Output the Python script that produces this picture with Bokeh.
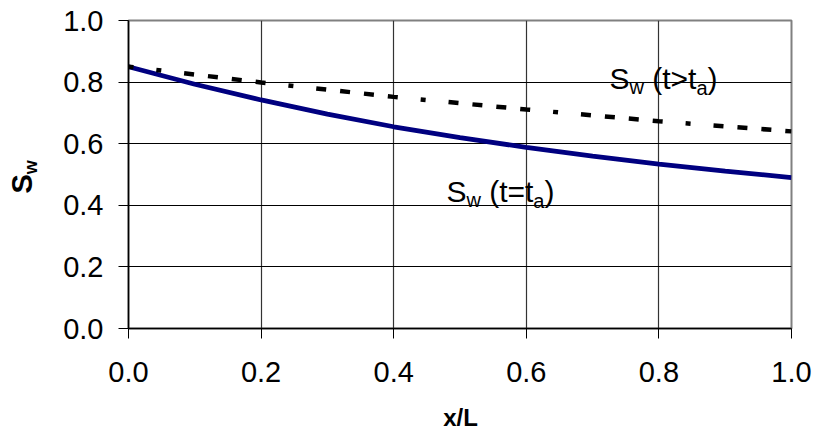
import math
from bokeh.plotting import figure
from bokeh.models import Range1d, FixedTicker, Label, PrintfTickFormatter
from bokeh.embed import file_html
from bokeh.resources import INLINE

# ---- data ----
x_solid = [0.0, 0.1, 0.2, 0.3, 0.4, 0.5, 0.6, 0.7, 0.8, 0.9, 1.0]
sw_solid = [0.850, 0.793, 0.742, 0.696, 0.655, 0.620, 0.588, 0.560, 0.534, 0.511, 0.490]

x_dash = [0.0, 0.2, 0.4, 0.6, 0.8, 1.0]
sw_dash = [0.850, 0.799, 0.752, 0.711, 0.673, 0.640]

tick_values = [0.0, 0.2, 0.4, 0.6, 0.8, 1.0]
tick_labels = ["0.0", "0.2", "0.4", "0.6", "0.8", "1.0"]
inner_ticks = [0.2, 0.4, 0.6, 0.8]
x_title = "x/L"

FONT = "Liberation Sans"

p = figure(width=815, height=429,
           x_range=Range1d(0, 1), y_range=Range1d(0, 1),
           output_backend="svg", toolbar_location=None,
           min_border_left=128, min_border_right=24,
           min_border_top=20, min_border_bottom=101)
p.background_fill_color = "white"
p.border_fill_color = "white"
p.outline_line_color = "#808080"
p.outline_line_width = 2

overrides = dict(zip(tick_values, tick_labels))
for ax in (p.xaxis[0], p.yaxis[0]):
    ax.ticker = FixedTicker(ticks=tick_values)
    ax.formatter = PrintfTickFormatter(format="%.1f")
    ax.major_label_overrides = overrides
    ax.axis_line_color = "black"
    ax.axis_line_width = 1.5
    ax.major_tick_line_color = "black"
    ax.major_tick_line_width = 1
    ax.major_tick_out = 10
    ax.major_tick_in = 0
    ax.minor_tick_line_color = None
    ax.major_label_text_font = FONT
    ax.major_label_text_font_size = "29px"
    ax.major_label_text_color = "black"
p.yaxis[0].major_label_standoff = 15
p.xaxis[0].major_label_standoff = 23

p.xgrid.ticker = FixedTicker(ticks=inner_ticks)
p.ygrid.ticker = FixedTicker(ticks=inner_ticks)
p.xgrid.grid_line_color = "#333333"
p.xgrid.grid_line_width = 1.2
p.ygrid.grid_line_color = "black"
p.ygrid.grid_line_width = 1

p.line(x_solid, sw_solid, line_color="#000080", line_width=4.8)
p.line(x_dash, sw_dash, line_color="black", line_width=4.5,
       line_dash="10 14 10 14 10 14 10 23 5 23", line_dash_offset=77)


def label(x, y, text, size, bold=False, angle=0.0, offset=0.0, units="data", align="left"):
    return Label(x=x, y=y, x_offset=offset, text=text, angle=angle,
                 x_units=units, y_units=units,
                 text_font=FONT, text_font_size=size,
                 text_font_style="bold" if bold else "normal",
                 text_align=align, text_baseline="alphabetic",
                 text_color="black")


def annotation(x0, yb, yw, ya, op):
    p.add_layout(label(x0, yb, "S", "30px", offset=0))
    p.add_layout(label(x0, yw, "w", "20px", offset=20.0))
    p.add_layout(label(x0, yb, "(t" + op + "t", "30px", offset=42.7))
    p.add_layout(label(x0, ya, "a", "20px", offset=86.9))
    p.add_layout(label(x0, yb, ")", "30px", offset=98.0))


# S_w (t=t_a)
annotation(0.4796, 0.4435, 0.4185, 0.4136, "=")
# S_w (t>t_a)
annotation(0.7255, 0.8104, 0.7854, 0.7805, ">")

# x-axis title, placed in the bottom panel so it is not clipped
p.add_layout(label(460.0, 417.0, x_title, "24px", bold=True, units="canvas", align="center"), "below")

# y-axis title S_w (rotated), placed in the left panel so it is not clipped
p.add_layout(label(21.1, 193.0, "S", "29px", bold=True, angle=math.pi / 2, units="canvas"), "left")
p.add_layout(label(30.4, 173.7, "w", "18px", bold=True, angle=math.pi / 2, units="canvas"), "left")

open("out.html", "w").write(file_html(p, INLINE))
